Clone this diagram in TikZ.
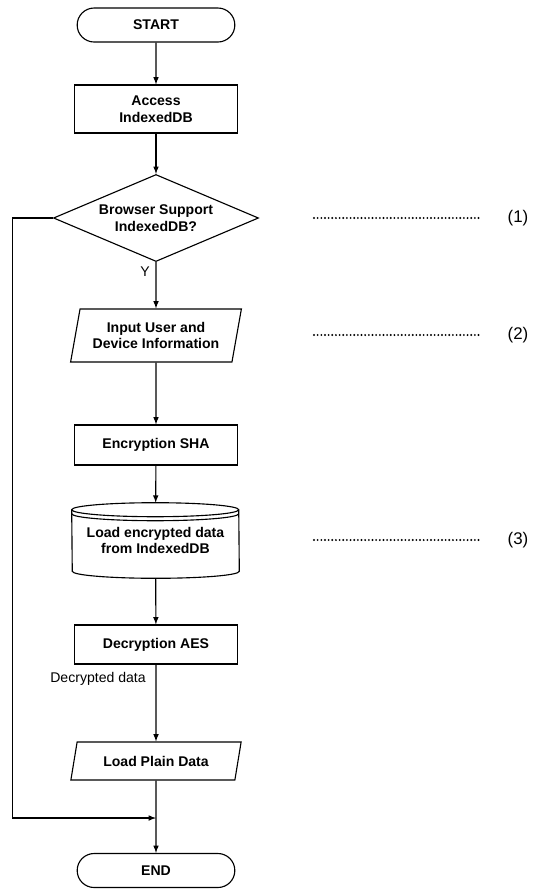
\documentclass[tikz,border=0pt]{standalone}
\usepackage{fontspec}
\setmainfont{Liberation Sans}
\usetikzlibrary{shapes}

\tikzset{
  block/.style={draw, line width=.8pt, minimum width=4.075cm, font=\bfseries, align=center},
  term/.style={block, rounded rectangle, minimum width=4.175cm, minimum height=.85cm},
  decision/.style={block, diamond, aspect=2.36, minimum width=5.125cm, minimum height=2.175cm, inner sep=0pt},
  io/.style={block, trapezium, trapezium left angle=77, trapezium right angle=103,
    trapezium stretches=true, minimum width=4.275cm},
  flow/.style={->, >=latex, line width=.8pt},
  dots/.style={line width=1.5pt, line cap=round, dash pattern=on 0pt off 2.6pt}
}

\begin{document}
\begin{tikzpicture}[x=.025cm, y=-.025cm, font=\fontsize{10}{10.7}\selectfont]
    \useasboundingbox (0,0) rectangle (533,890);
    % main column
    \node[term] (start) at (156,25) {START};
    \node[block, minimum height=1.2cm] (access) at (156,109) {Access\\IndexedDB};
    \node[decision] (support) at (156,218) {Browser Support\\IndexedDB?};
    \node[io, minimum height=1.325cm] (input) at (156,335.5) {Input User and\\Device Information};
    \node[block, minimum height=1cm] (sha) at (156,445) {Encryption SHA};
    \node[minimum width=4.175cm, minimum height=1.875cm, font=\bfseries, align=center] (load)
      at (155.5,540.5) {Load encrypted data\\from IndexedDB};
    \node[block, minimum height=.975cm] (aes) at (156,644.5) {Decryption AES};
    \node[io, minimum height=.95cm] (plain) at (156,761) {Load Plain Data};
    \node[term] (end) at (156,870.5) {END};
    % database drum round the load node
    \draw[line width=.8pt] ([yshift=-.175cm]load.north west)
        arc[start angle=180, end angle=0, x radius=2.0875cm, y radius=.175cm]
        -- ([yshift=.175cm]load.south east)
        arc[start angle=0, end angle=-180, x radius=2.0875cm, y radius=.175cm] -- cycle;
    \draw[line width=.8pt] ([yshift=-.175cm]load.north west)
        arc[start angle=180, end angle=360, x radius=2.0875cm, y radius=.175cm];
    \draw[line width=.8pt] ([yshift=-.275cm]load.north west)
        arc[start angle=180, end angle=360, x radius=2.0875cm, y radius=.175cm];
    % labels on the arrows
    \node (yes) at (145,272) {Y};
    \node (decrypted) at (98,679) {Decrypted data};
    % arrows
    \coordinate (join) at (156,818);
    \draw[flow] (start) -- (access);
    \draw[flow] (access) -- (support);
    \draw[flow] (support) -- (input);
    \draw[flow] (input) -- (sha);
    \draw[flow] (sha) -- (load);
    \draw[flow] (load) -- (aes);
    \draw[flow] (aes) -- (plain);
    \draw[flow] (plain) -- (end);
    \draw[flow] (support.west) -- ++(-40,0) |- (join);
    % notes on the right
    \foreach \y/\t in {218/1,335/2,540/3} {
      \coordinate (d\t) at (314,\y);
      \coordinate (e\t) at (481,\y);
      \node[font=\fontsize{12}{14}\selectfont] (n\t) at (518,\y) {(\t)};
      \draw[dots] (d\t) -- (e\t);
    }
\end{tikzpicture}
\end{document}
